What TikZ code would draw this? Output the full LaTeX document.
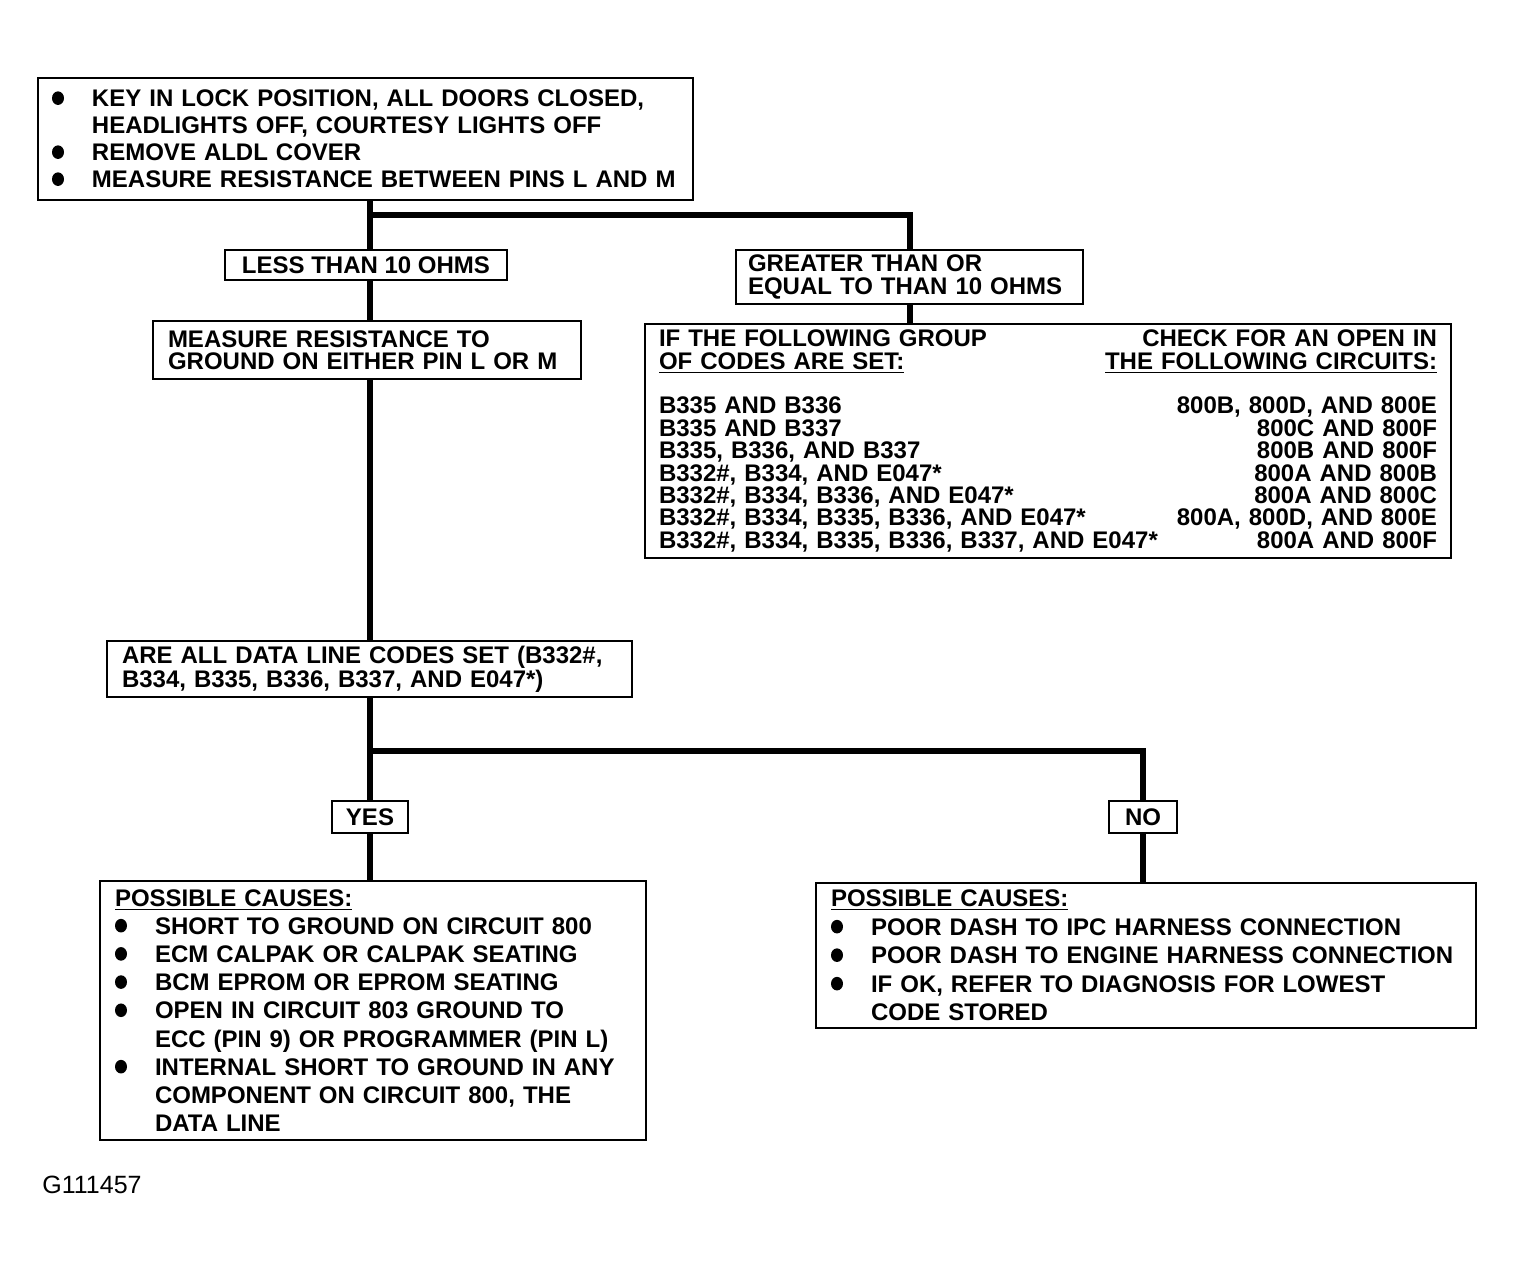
\documentclass[tikz,border=0pt]{standalone}
\usepackage{fontspec}
\setmainfont{Liberation Sans}
\usepackage{tikz}

\newcommand\boxfont[1]{\bfseries\fontsize{12}{#1}\selectfont}
\newcommand\dotmark{\makebox[20pt][l]{\tikz[baseline=0pt]\fill (3.2pt,4.3pt) ellipse (3pt and 3.4pt);}}
\newcommand\hang{\hspace*{20pt}}
\newcommand\pushright{\hspace{0pt plus 1fill}}

\begin{document}
\begin{tikzpicture}[x=0.5pt,y=-0.5pt,
  box/.style={draw,line width=1.2pt,inner xsep=7pt,inner ysep=0pt,align=left},
  tag/.style={draw,line width=1.2pt,inner sep=0pt,font=\boxfont{12}},
  wire/.style={line width=3pt}]
\useasboundingbox (0,0) rectangle (1516,1267);

\node (start) at (365.5,139) [box,text width=313.5pt,minimum height=61pt,font=\boxfont{13.5}]
  {\dotmark KEY IN LOCK POSITION, ALL DOORS CLOSED,\\
   \hang HEADLIGHTS OFF, COURTESY LIGHTS OFF\\
   \dotmark REMOVE ALDL COVER\\
   \dotmark MEASURE RESISTANCE BETWEEN PINS L AND M};
\node (less) at (366,265) [tag,minimum width=141pt,minimum height=15pt] {LESS THAN 10 OHMS};
\node (greater) at (909.5,277) [box,inner xsep=6pt,text width=161.5pt,minimum height=27pt,font=\boxfont{11.5}]
  {GREATER THAN OR\\EQUAL TO THAN 10 OHMS};
\node (measure) at (367,350) [box,inner xsep=7.5pt,text width=199pt,minimum height=29pt,font=\boxfont{10.75}]
  {MEASURE RESISTANCE TO\\GROUND ON EITHER PIN L OR M};
\node (iftable) at (1048,441) [box,text width=389pt,minimum height=117pt,font=\boxfont{11.2}]
  {IF THE FOLLOWING GROUP\pushright CHECK FOR AN OPEN IN\\
   \underline{OF CODES ARE SET:}\pushright\underline{THE FOLLOWING CIRCUITS:}\\[11.2pt]
   B335 AND B336\pushright 800B, 800D, AND 800E\\
   B335 AND B337\pushright 800C AND 800F\\
   B335, B336, AND B337\pushright 800B AND 800F\\
   B332\#, B334, AND E047*\pushright 800A AND 800B\\
   B332\#, B334, B336, AND E047*\pushright 800A AND 800C\\
   B332\#, B334, B335, B336, AND E047*\pushright 800A, 800D, AND 800E\\
   B332\#, B334, B335, B336, B337, AND E047*\pushright 800A AND 800F};
\node (areall) at (369.5,669) [box,inner xsep=7.5pt,text width=247.5pt,minimum height=28pt,font=\boxfont{11}]
  {ARE ALL DATA LINE CODES SET (B332\#,\\B334, B335, B336, B337, AND E047*)};
\node (yes) at (370,817) [tag,minimum width=38pt,minimum height=16pt] {YES};
\node (no) at (1143,817) [tag,minimum width=34pt,minimum height=16pt] {NO};
\node (leftcauses) at (373,1010.5) [box,inner xsep=7.5pt,text width=258pt,minimum height=129.5pt,font=\boxfont{14.1}]
  {\underline{POSSIBLE CAUSES:}\\
   \dotmark SHORT TO GROUND ON CIRCUIT 800\\
   \dotmark ECM CALPAK OR CALPAK SEATING\\
   \dotmark BCM EPROM OR EPROM SEATING\\
   \dotmark OPEN IN CIRCUIT 803 GROUND TO\\
   \hang ECC (PIN 9) OR PROGRAMMER (PIN L)\\
   \dotmark INTERNAL SHORT TO GROUND IN ANY\\
   \hang COMPONENT ON CIRCUIT 800, THE\\
   \hang DATA LINE};
\node (rightcauses) at (1146,955.5) [box,inner xsep=7.5pt,text width=315pt,minimum height=72.5pt,font=\boxfont{14.25}]
  {\underline{POSSIBLE CAUSES:}\\
   \dotmark POOR DASH TO IPC HARNESS CONNECTION\\
   \dotmark POOR DASH TO ENGINE HARNESS CONNECTION\\
   \dotmark IF OK, REFER TO DIAGNOSIS FOR LOWEST\\
   \hang CODE STORED};
\node (figid) at (42,1185) [anchor=west,inner sep=0pt,font=\fontsize{12.5}{14}\selectfont] {G111457};

\coordinate (fork1) at (370,215);
\coordinate (fork2) at (370,751);
\draw[wire] (start.south -| fork1) -- (fork1) -| (greater.north);
\draw[wire] (fork1) -- (fork1 |- less.north);
\draw[wire] (fork1 |- less.south) -- (fork1 |- measure.north);
\draw[wire] (greater.south) -- (greater.south |- iftable.north);
\draw[wire] (fork1 |- measure.south) -- (fork1 |- areall.north);
\draw[wire] (fork2 |- areall.south) -- (fork2) -| (no.north);
\draw[wire] (fork2) -- (fork2 |- yes.north);
\draw[wire] (yes.south) -- (yes.south |- leftcauses.north);
\draw[wire] (no.south) -- (no.south |- rightcauses.north);
\end{tikzpicture}
\end{document}
